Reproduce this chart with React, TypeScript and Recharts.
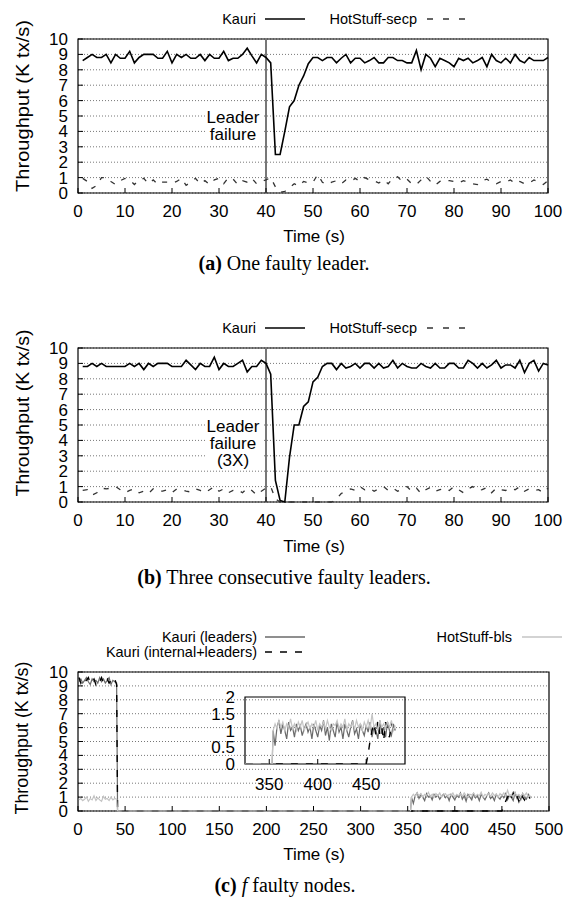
import { LineChart, Line, XAxis, YAxis, CartesianGrid, ReferenceLine, ReferenceArea } from "recharts"

const SANS = "'Liberation Sans', Arial, Helvetica, sans-serif"
const SERIF = "'Liberation Serif', 'Times New Roman', serif"

// (a) one faulty leader -- one sample per second, from t = 1
const kauriA = [
  8.6, 8.8, 9.0, 8.8, 8.8, 9.0, 8.45, 9.0, 8.75, 8.75,
  9.2, 8.45, 8.8, 9.0, 9.0, 9.0, 8.75, 8.75, 9.2, 8.45,
  9.0, 8.8, 9.0, 8.75, 8.75, 9.0, 8.6, 9.0, 8.75, 8.75,
  9.2, 8.6, 8.75, 8.75, 9.0, 9.4, 8.9, 8.45, 9.0, 8.8,
  8.45, 2.5, 2.5, 4.0, 5.6, 6.0, 7.0, 7.6, 8.4, 8.8,
  8.8, 8.6, 8.8, 8.8, 8.45, 8.75, 9.0, 8.45, 8.75, 8.75,
  8.45, 8.6, 8.8, 8.45, 8.45, 8.8, 8.8, 8.6, 8.6, 8.45,
  8.45, 9.25, 8.0, 9.0, 8.75, 8.2, 8.75, 8.6, 8.45, 8.2,
  8.75, 8.6, 8.75, 8.45, 8.6, 8.8, 8.2, 9.0, 8.6, 8.45,
  8.75, 8.45, 9.0, 8.6, 8.45, 8.8, 8.6, 8.6, 8.6, 8.8,
]
const hotstuffA = [
  0.95, 0.75, 0.3, 0.5, 1.0, 1.0, 0.75, 0.55, 0.8, 0.95,
  0.85, 0.55, 0.85, 0.95, 0.6, 0.85, 0.55, 0.7, 0.7, 0.65,
  0.75, 0.95, 0.5, 0.7, 0.95, 0.6, 0.8, 0.55, 0.85, 0.95,
  0.6, 1.0, 0.9, 0.55, 0.8, 0.7, 0.95, 0.6, 0.75, 0.85,
  1.0, 0.4, 0.05, 0.1, 0.35, 0.6, 0.45, 0.75, 0.65, 0.7,
  1.2, 0.7, 0.55, 0.7, 0.8, 0.6, 0.85, 0.75, 0.95, 0.75,
  1.0, 0.85, 0.8, 0.65, 0.85, 0.6, 0.95, 1.05, 0.75, 0.9,
  0.6, 0.55, 0.85, 1.1, 0.75, 0.5, 0.75, 0.85, 0.8, 0.75,
  0.65, 0.8, 0.7, 0.6, 0.55, 0.8, 0.9, 0.7, 0.6, 0.75,
  0.7, 0.85, 0.6, 0.75, 0.6, 0.65, 0.85, 0.7, 0.55, 0.8,
]

// (b) three consecutive faulty leaders
const kauriB = [
  8.8, 8.8, 9.0, 8.8, 9.0, 8.8, 8.8, 8.8, 8.8, 8.8,
  9.0, 8.8, 9.0, 8.6, 9.0, 8.8, 9.0, 9.0, 9.0, 8.8,
  8.8, 8.8, 9.2, 8.9, 8.6, 9.0, 8.8, 8.8, 9.4, 8.6,
  9.0, 8.8, 8.8, 9.0, 9.2, 8.45, 8.8, 8.8, 9.2, 9.0,
  8.3, 1.4, 0.1, 0.0, 2.9, 5.0, 5.0, 6.2, 6.5, 7.8,
  8.1, 8.8, 9.0, 9.0, 8.6, 9.0, 8.7, 8.8, 9.0, 8.7,
  9.0, 9.0, 8.7, 9.0, 8.7, 8.8, 9.2, 8.7, 9.0, 8.8,
  8.7, 8.7, 9.0, 8.8, 8.7, 9.0, 8.7, 8.7, 9.0, 9.0,
  8.7, 8.7, 9.2, 9.0, 8.7, 9.0, 8.7, 8.9, 9.2, 8.7,
  8.9, 8.9, 8.7, 9.2, 8.4, 9.0, 9.2, 8.5, 9.0, 8.9,
]
const hotstuffB = [
  0.75, 0.8, 0.45, 0.6, 0.9, 0.85, 0.9, 1.0, 0.8, 0.6,
  0.75, 0.85, 0.6, 0.7, 0.55, 0.85, 0.7, 0.7, 0.8, 0.6,
  0.85, 0.8, 0.7, 0.65, 0.85, 0.75, 0.6, 0.8, 1.0, 0.7,
  0.85, 0.6, 0.75, 0.8, 0.6, 0.9, 0.75, 0.45, 0.7, 0.9,
  1.0, 0.2, 0, 0, 0, 0, 0, 0, 0, 0,
  0, 0, 0, 0, 0.2, 0.55, 0.7, 0.85, 0.75, 1.0,
  0.8, 0.9, 0.7, 0.85, 1.0, 0.75, 0.9, 0.7, 0.85, 1.0,
  0.7, 0.9, 0.55, 0.8, 0.95, 0.7, 0.8, 0.9, 0.75, 1.0,
  0.8, 0.6, 0.85, 1.0, 0.75, 0.8, 0.95, 0.6, 0.9, 0.8,
  0.75, 0.9, 0.8, 1.0, 0.7, 0.85, 0.75, 0.8, 0.6, 0.9,
]

const failureT = 40
const ticksAB = [0, 10, 20, 30, 40, 50, 60, 70, 80, 90, 100]
const yTicks = [0, 1, 2, 3, 4, 5, 6, 7, 8, 9, 10]

// (c) f faulty nodes
const cStartT = [1, 3, 5, 7, 9, 11, 13, 15, 17, 19, 21, 23, 25, 27, 29, 31, 33, 35, 37, 39, 41]
const leadersStart = [9.3, 9.5, 9.2, 9.4, 9.6, 9.3, 9.1, 9.5, 9.3, 9.4, 9.2, 9.6, 9.3, 9.5, 9.2, 9.4, 9.6, 9.1, 9.4, 9.3, 9.2]
const internalStart = [9.6, 9.2, 9.5, 9.3, 9.4, 9.6, 9.2, 9.3, 9.5, 9.1, 9.4, 9.3, 9.6, 9.2, 9.4, 9.5, 9.2, 9.4, 9.3, 9.5, 9.1]
const hotStart = [0.8, 0.9, 0.75, 0.85, 1.0, 0.7, 0.9, 0.8, 1.1, 0.75, 0.95, 0.8, 0.7, 1.05, 0.85, 0.9, 0.75, 1.0, 0.8, 0.9, 0.85]

const leadersZeroT = [42, 353]
const internalZeroT = [42, 450]
const hotZeroT = [42, 353]

const cEndT = [
  354, 356, 358, 360, 362, 364, 366, 368, 370, 372, 374, 376, 378, 380, 382, 384,
  386, 388, 390, 392, 394, 396, 398, 400, 402, 404, 406, 408, 410, 412, 414, 416,
  418, 420, 422, 424, 426, 428, 430, 432, 434, 436, 438, 440, 442, 444, 446, 448,
  450, 452, 454, 456, 458, 460, 462, 464, 466, 468, 470, 472, 474, 476, 478, 480,
]
const leadersEnd = [
  1.0, 0.55, 1.1, 1.3, 0.9, 1.2, 1.0, 0.75, 1.25, 1.0,
  1.1, 0.8, 1.2, 1.0, 1.15, 0.85, 1.05, 1.2, 0.95, 1.1,
  0.75, 1.2, 1.0, 0.8, 1.15, 1.0, 1.3, 0.85, 1.1, 0.7,
  1.2, 1.0, 0.8, 1.25, 0.95, 1.1, 0.75, 1.2, 1.0, 0.8,
  1.1, 1.3, 0.9, 1.05, 0.75, 1.2, 1.0, 0.85, 1.15, 0.95,
  1.25, 0.8, 1.1, 1.0, 0.75, 1.3, 0.9, 1.1, 0.8, 1.25,
  1.0, 0.85, 1.2, 1.0,
]
const hotEnd = [
  1.0, 1.2, 1.05, 1.3, 1.1, 1.25, 1.0, 1.2, 1.1, 1.35,
  1.05, 1.2, 1.0, 1.25, 1.1, 1.3, 1.0, 1.15, 1.25, 1.05,
  1.2, 1.1, 1.3, 1.0, 1.2, 1.1, 1.25, 1.05, 1.3, 1.1,
  1.0, 1.2, 1.15, 1.3, 1.05, 1.2, 1.1, 1.35, 1.0, 1.2,
  1.1, 1.25, 1.05, 1.3, 1.1, 1.2, 1.0, 1.25, 1.1, 1.3,
  1.05, 1.5, 1.1, 1.2, 1.0, 1.3, 1.1, 1.2, 1.05, 1.25,
  1.1, 1.3, 1.0, 1.15,
]
const internalEndT = [452, 454, 456, 458, 460, 462, 464, 466, 468, 470, 472, 474, 476, 478, 480]
const internalEnd = [0.3, 0.7, 1.0, 1.2, 0.85, 1.3, 0.9, 1.1, 0.7, 1.25, 1.0, 0.8, 1.2, 1.05, 0.9]

const ticksC = [0, 50, 100, 150, 200, 250, 300, 350, 400, 450, 500]
const insetXTicks = [350, 400, 450]
const insetYTicks = [0, 0.5, 1, 1.5, 2]

type Pt = { t: number; v: number }
const pts = (ts: number[], vs: number[]): Pt[] => ts.map((t, i) => ({ t, v: vs[i] }))
const perSecond = (vs: number[]): Pt[] => vs.map((v, i) => ({ t: i + 1, v }))
const zeros = (ts: number[]): Pt[] => ts.map((t) => ({ t, v: 0 }))

const leadersC = [...pts(cStartT, leadersStart), ...zeros(leadersZeroT), ...pts(cEndT, leadersEnd)]
const internalC = [...pts(cStartT, internalStart), ...zeros(internalZeroT), ...pts(internalEndT, internalEnd)]
const hotC = [...pts(cStartT, hotStart), ...zeros(hotZeroT), ...pts(cEndT, hotEnd)]

const tickFont = { fontFamily: SANS, fontSize: 17, fill: "#000" }

function FailurePanel({ top, kauri, hot }: { top: number; kauri: number[]; hot: number[] }) {
  const k = perSecond(kauri)
  const h = perSecond(hot)
  return (
    <div style={{ position: "absolute", left: 0, top }}>
      <LineChart width={568} height={230} margin={{ top: 39, right: 20, bottom: 7, left: 0 }}>
        <CartesianGrid vertical={false} stroke="#777" strokeDasharray="1 2" />
        <XAxis dataKey="t" type="number" domain={[0, 100]} ticks={ticksAB} interval={0} height={30}
          axisLine={false} tickSize={-5} tickMargin={17} tickLine={{ stroke: "#000" }} tick={tickFont} />
        <XAxis xAxisId="top" orientation="top" dataKey="t" type="number" domain={[0, 100]} ticks={ticksAB}
          interval={0} height={0} axisLine={false} tick={false} tickSize={-5} tickLine={{ stroke: "#000" }} />
        <YAxis type="number" domain={[0, 10]} ticks={yTicks} interval={0} width={78} axisLine={false}
          tickSize={-5} tickMargin={15} tickLine={{ stroke: "#000" }} tick={tickFont} />
        <ReferenceLine x={failureT} stroke="#777" strokeWidth={2} />
        <Line data={h} dataKey="v" type="linear" stroke="#333" strokeWidth={1.3} strokeDasharray="5 8"
          dot={false} isAnimationActive={false} />
        <Line data={k} dataKey="v" type="linear" stroke="#000" strokeWidth={1.6} dot={false} isAnimationActive={false} />
        <Line xAxisId="top" data={k} dataKey="v" stroke="none" dot={false} isAnimationActive={false} />
        <ReferenceArea x1={0} x2={100} y1={0} y2={10} fill="none" stroke="#000" strokeWidth={1.2} />
      </LineChart>
    </div>
  )
}

function FaultyNodesPanel() {
  return (
    <div style={{ position: "absolute", left: 0, top: 630 }}>
      <LineChart width={568} height={230} margin={{ top: 42, right: 19, bottom: 19, left: 0 }}>
        <CartesianGrid vertical={false} stroke="#777" strokeDasharray="1 2" />
        <XAxis dataKey="t" type="number" domain={[0, 500]} ticks={ticksC} interval={0} height={30}
          axisLine={false} tickSize={-5} tickMargin={17} tickLine={{ stroke: "#000" }} tick={tickFont} />
        <XAxis xAxisId="top" orientation="top" dataKey="t" type="number" domain={[0, 500]} ticks={ticksC}
          interval={0} height={0} axisLine={false} tick={false} tickSize={-5} tickLine={{ stroke: "#000" }} />
        <YAxis type="number" domain={[0, 10]} ticks={yTicks} interval={0} width={78} axisLine={false}
          tickSize={-5} tickMargin={15} tickLine={{ stroke: "#000" }} tick={tickFont} />
        <Line data={leadersC} dataKey="v" stroke="#6a6a6a" strokeWidth={1.2} dot={false} isAnimationActive={false} />
        <Line data={internalC} dataKey="v" stroke="#000" strokeWidth={1.4} strokeDasharray="7 8" dot={false} isAnimationActive={false} />
        <Line data={hotC} dataKey="v" stroke="#c4c4c4" strokeWidth={1.2} dot={false} isAnimationActive={false} />
        <Line xAxisId="top" data={hotC} dataKey="v" stroke="none" dot={false} isAnimationActive={false} />
        <ReferenceArea x1={0} x2={500} y1={0} y2={10} fill="none" stroke="#000" strokeWidth={1.2} />
      </LineChart>
    </div>
  )
}

function Inset() {
  return (
    <div style={{ position: "absolute", left: 195, top: 680 }}>
      <LineChart width={215} height={120} margin={{ top: 17, right: 5, bottom: 0, left: 0 }}>
        <XAxis dataKey="t" type="number" domain={[325, 490]} allowDataOverflow ticks={insetXTicks} interval={0}
          height={36} axisLine={false} tickSize={-5} tickMargin={19} tickLine={{ stroke: "#000" }} tick={tickFont} />
        <XAxis xAxisId="top" orientation="top" dataKey="t" type="number" domain={[325, 490]} allowDataOverflow
          ticks={insetXTicks} interval={0} height={0} axisLine={false} tick={false} tickSize={-5} tickLine={{ stroke: "#000" }} />
        <YAxis type="number" domain={[0, 2]} allowDataOverflow ticks={insetYTicks} interval={0} width={50}
          axisLine={false} tickLine={false} tickMargin={4} tick={tickFont} />
        <Line data={leadersC} dataKey="v" stroke="#6a6a6a" strokeWidth={1.2} dot={false} isAnimationActive={false} />
        <Line data={internalC} dataKey="v" stroke="#000" strokeWidth={1.4} strokeDasharray="7 8" dot={false} isAnimationActive={false} />
        <Line data={hotC} dataKey="v" stroke="#c4c4c4" strokeWidth={1.2} dot={false} isAnimationActive={false} />
        <Line xAxisId="top" data={hotC} dataKey="v" stroke="none" dot={false} isAnimationActive={false} />
        <ReferenceArea x1={325} x2={490} y1={0} y2={2} fill="none" stroke="#000" strokeWidth={1.2} />
      </LineChart>
    </div>
  )
}

function YLabel({ cy, len, size }: { cy: number; len: number; size: number }) {
  return (
    <text transform={`translate(22,${cy}) rotate(-90)`} textAnchor="middle" dominantBaseline="central"
      fontSize={size} textLength={len} lengthAdjust="spacingAndGlyphs">Throughput (K tx/s)</text>
  )
}

function Annotation({ lines, y0 }: { lines: string[]; y0: number }) {
  return (
    <g>
      <rect x={205} y={y0 - 10} width={59} height={lines.length * 17 + 3} fill="#fff" />
      {lines.map((s, i) => (
        <text key={i} x={233} y={y0 + i * 17} textAnchor="middle" dominantBaseline="central" fontSize={17}>{s}</text>
      ))}
    </g>
  )
}

function SecpLegend({ y }: { y: number }) {
  return (
    <g fontSize={14.5}>
      <text x={256} y={y} textAnchor="end" dominantBaseline="central">Kauri</text>
      <line x1={265} x2={305} y1={y} y2={y} stroke="#000" strokeWidth={1.6} />
      <text x={417} y={y} textAnchor="end" dominantBaseline="central">HotStuff-secp</text>
      <line x1={427} x2={467} y1={y} y2={y} stroke="#333" strokeWidth={1.3} strokeDasharray="6 10" />
    </g>
  )
}

export default function App() {
  return (
    <div style={{ position: "absolute", left: 0, top: 0, width: 568, height: 900, background: "#fff" }}>
      <FailurePanel top={0} kauri={kauriA} hot={hotstuffA} />
      <FailurePanel top={309} kauri={kauriB} hot={hotstuffB} />
      <FaultyNodesPanel />
      <Inset />
      <svg width={568} height={900} style={{ position: "absolute", left: 0, top: 0, pointerEvents: "none" }}
        fontFamily={SANS} fill="#000">
        <SecpLegend y={19} />
        <SecpLegend y={328} />
        <g fontSize={14.5}>
          <text x={257} y={637} textAnchor="end" dominantBaseline="central">Kauri (leaders)</text>
          <line x1={265} x2={305} y1={637} y2={637} stroke="#6a6a6a" strokeWidth={1.4} />
          <text x={257} y={652} textAnchor="end" dominantBaseline="central">Kauri (internal+leaders)</text>
          <line x1={265} x2={305} y1={652} y2={652} stroke="#000" strokeWidth={1.4} strokeDasharray="7 8" />
          <text x={512} y={637} textAnchor="end" dominantBaseline="central">HotStuff-bls</text>
          <line x1={522} x2={562} y1={637} y2={637} stroke="#c4c4c4" strokeWidth={1.4} />
        </g>

        <Annotation lines={["Leader", "failure"]} y0={117} />
        <Annotation lines={["Leader", "failure", "(3X)"]} y0={426} />

        <YLabel cy={106} len={172} size={19} />
        <YLabel cy={413} len={167} size={19} />
        <YLabel cy={738} len={153} size={18} />

        <g fontSize={17} textAnchor="middle" dominantBaseline="central">
          <text x={314} y={236}>Time (s)</text>
          <text x={314} y={546}>Time (s)</text>
          <text x={314} y={854}>Time (s)</text>
        </g>

        <g fontFamily={SERIF} fontSize={20} textAnchor="middle" dominantBaseline="central">
          <text x={284} y={263}><tspan fontWeight="bold">(a)</tspan> One faulty leader.</text>
          <text x={284} y={577}><tspan fontWeight="bold">(b)</tspan> Three consecutive faulty leaders.</text>
          <text x={285} y={885}><tspan fontWeight="bold">(c)</tspan> <tspan fontStyle="italic">f</tspan> faulty nodes.</text>
        </g>
      </svg>
    </div>
  )
}
